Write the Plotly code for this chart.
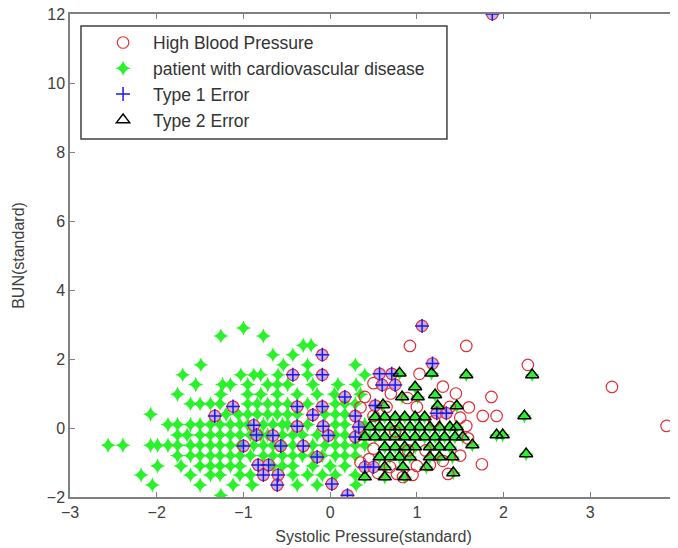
import plotly.graph_objects as go

# ---- data ----
# patients with cardiovascular disease (green stars)
cvd_x = [-1.0,
         -1.26, -0.77,
         -0.31, -0.22,
         -0.66, -0.43,
         -1.49, -0.54, -0.26, 0.29,
         -1.70, -1.03, -0.88, -0.80, -0.60, -0.26, 0.40,
         -1.55, -1.24, -1.15, -0.95, -0.72, -0.61, -0.49, -0.20, 0.09, 0.30,
         -1.76, -1.26, -0.95, -0.80, -0.61, -0.38, -0.15, 0.05, 0.35,
         -1.61, -1.50, -1.38, -1.27, -0.95, -0.84, -0.72, -0.61, -0.49, -0.26, 0.06, 0.17, 0.29,
         -2.07, -1.20, -1.06, -0.95, -0.84, -0.72, -0.61, -0.49, -0.38, -0.06, 0.06, 0.17,
         -1.87, -1.76, -1.61, -1.50, -1.38, -1.27, -1.15, -1.04, -0.95, -0.77, -0.66, -0.55, -0.49, -0.26, 0.06, 0.17, 0.40,
         -1.76, -1.65, -1.50, -1.38, -1.27, -1.15, -1.04, -0.92, -0.80, -0.72, -0.55, -0.43, -0.32, -0.15, 0.06, 0.17, 0.40,
         -2.56, -2.39, -2.07, -1.99, -1.87, -1.76, -1.61, -1.50, -1.38, -1.27, -1.15, -1.04, -0.88, -0.77, -0.66, -0.55, -0.43, -0.20, -0.06, 0.06, 0.17, 0.29, 0.40,
         -1.76, -1.61, -1.50, -1.38, -1.27, -1.15, -1.04, -0.92, -0.77, -0.66, -0.55, -0.43, -0.32, -0.20, -0.09, 0.06, 0.17, 0.29,
         -1.99, -1.72, -1.50, -1.38, -1.27, -1.15, -1.04, -0.66, -0.55, -0.43, -0.20, 0.0, 0.17,
         -2.18, -1.61, -1.38, -1.27, -1.04, -0.92, -0.43, -0.26, -0.09, 0.06, 0.29,
         -2.05, -1.50, -1.12, -0.90, -0.38, -0.15, 0.30,
         -1.26]
cvd_y = [2.9,
         2.67, 2.67,
         2.4, 2.4,
         2.12, 2.12,
         1.83, 1.83, 1.83, 1.83,
         1.54, 1.54, 1.54, 1.54, 1.54, 1.54, 1.54,
         1.26, 1.26, 1.26, 1.26, 1.26, 1.26, 1.26, 1.26, 1.26, 1.26,
         0.98, 0.98, 0.98, 0.98, 0.98, 0.98, 0.98, 0.98, 0.98,
         0.7, 0.7, 0.7, 0.7, 0.7, 0.7, 0.7, 0.7, 0.7, 0.7, 0.7, 0.7, 0.7,
         0.4, 0.4, 0.4, 0.4, 0.4, 0.4, 0.4, 0.4, 0.4, 0.4, 0.4, 0.4,
         0.1, 0.1, 0.1, 0.1, 0.1, 0.1, 0.1, 0.1, 0.1, 0.1, 0.1, 0.1, 0.1, 0.1, 0.1, 0.1, 0.1,
         -0.2, -0.2, -0.2, -0.2, -0.2, -0.2, -0.2, -0.2, -0.2, -0.2, -0.2, -0.2, -0.2, -0.2, -0.2, -0.2, -0.2,
         -0.5, -0.5, -0.5, -0.5, -0.5, -0.5, -0.5, -0.5, -0.5, -0.5, -0.5, -0.5, -0.5, -0.5, -0.5, -0.5, -0.5, -0.5, -0.5, -0.5, -0.5, -0.5, -0.5,
         -0.8, -0.8, -0.8, -0.8, -0.8, -0.8, -0.8, -0.8, -0.8, -0.8, -0.8, -0.8, -0.8, -0.8, -0.8, -0.8, -0.8, -0.8,
         -1.1, -1.1, -1.1, -1.1, -1.1, -1.1, -1.1, -1.1, -1.1, -1.1, -1.1, -1.1, -1.1,
         -1.36, -1.36, -1.36, -1.36, -1.36, -1.36, -1.36, -1.36, -1.36, -1.36, -1.36,
         -1.65, -1.65, -1.65, -1.65, -1.65, -1.65, -1.65,
         -1.95]

# high blood pressure (red circles)
hbp_x = [0.92, 1.57, 2.28, 3.25, 3.88, 1.86, 1.76, 1.92, 1.75, 1.36, 1.03, 0.89, 1.0, 1.38,
         1.15, 0.84, 0.95, 0.69, 0.77, 1.57, 1.59, 0.65, 0.40, 0.50, 0.35, 1.50, 1.10, 0.50,
         0.45, 1.30, 1.50, 1.00, 0.70, 1.30, 0.50, 0.55, 0.35, 1.45, 1.60, 0.90, 1.20, 0.75]
hbp_y = [2.38, 2.38, 1.83, 1.19, 0.06, 0.90, 0.35, 0.35, -1.05, -1.33, 1.57, 0.87, 0.61, 0.61,
         -1.07, -1.42, -1.36, -1.13, -1.33, 0.06, -0.30, 0.61, 0.90, 0.35, 0.60, 0.30, -0.65, -0.60,
         -0.90, -0.95, -0.80, -1.10, 1.00, 1.20, 1.30, -1.30, -1.00, 1.00, 0.60, -0.65, 0.20, -0.10]

# type 1 errors (blue plus)
t1_x = [1.87, 1.06, 1.18, -0.09, -0.43, -0.09, 0.57, 0.71, 0.60, 0.75, 0.17, -1.12, -0.38,
        -0.09, 0.52, -1.33, -0.20, 0.29, 1.23, 1.34, -0.88, -0.38, -0.08, -0.85, -0.66, -0.02,
        0.29, -1.00, -0.57, -0.31, -0.15, -0.83, -0.71, 0.40, 0.50, -0.77, -0.60, -0.61, 0.02,
        0.20, 0.33]
t1_y = [12.0, 2.96, 1.87, 2.12, 1.54, 1.54, 1.57, 1.57, 1.25, 1.25, 0.90, 0.62, 0.62,
        0.62, 0.65, 0.35, 0.38, 0.35, 0.43, 0.43, 0.08, 0.05, 0.05, -0.20, -0.22, -0.22,
        -0.26, -0.52, -0.52, -0.52, -0.84, -1.07, -1.07, -1.13, -1.13, -1.36, -1.36, -1.65, -1.62,
        -1.95, 0.03]

# type 2 errors (black triangles)
t2_x = [0.80, 1.17, 1.57, 2.33, 0.98, 0.83, 1.01, 1.21, 0.61, 1.24, 1.46,
        0.52, 0.63, 0.75, 0.86, 0.98, 1.09, 2.24,
        0.46, 0.57, 0.69, 0.80, 0.92, 1.03, 1.15, 1.26, 1.38, 1.46,
        0.40, 0.52, 0.63, 0.75, 0.86, 0.98, 1.09, 1.21, 1.32, 1.44, 1.53, 1.92, 1.99,
        0.63, 0.75, 0.86, 0.98, 1.15, 1.26, 1.38, 1.64,
        0.57, 0.69, 0.80, 0.92, 1.15, 1.26, 1.41, 2.26,
        0.63, 0.84, 1.11,
        0.40, 0.63, 0.86, 1.42]
t2_y = [1.59, 1.59, 1.54, 1.54, 1.19, 0.90, 0.90, 0.96, 0.67, 0.64, 0.64,
        0.32, 0.32, 0.32, 0.32, 0.32, 0.32, 0.35,
        0.03, 0.03, 0.03, 0.03, 0.03, 0.03, 0.03, 0.03, 0.03, 0.03,
        -0.26, -0.26, -0.26, -0.26, -0.26, -0.26, -0.26, -0.26, -0.26, -0.26, -0.26, -0.20, -0.20,
        -0.55, -0.55, -0.55, -0.55, -0.55, -0.55, -0.55, -0.49,
        -0.84, -0.84, -0.84, -0.84, -0.84, -0.84, -0.84, -0.75,
        -1.13, -1.13, -1.13,
        -1.42, -1.42, -1.42, -1.30]

x_ticks = [-3, -2, -1, 0, 1, 2, 3, 4]
y_ticks = [-2, 0, 2, 4, 6, 8, 10, 12]

RED = "#e2303a"
GREEN = "#2af22a"
BLUE = "#1a1ae6"
FONT = "Liberation Sans, Arial, sans-serif"

fig = go.Figure()

# green stars (patients incl. those under type-2 triangles)
fig.add_trace(go.Scatter(
    x=cvd_x + t2_x, y=cvd_y + t2_y, mode="markers",
    name="patient with cardiovascular disease", legendrank=2,
    marker=dict(symbol="star-diamond", size=11, color=GREEN, line=dict(width=0)),
))
# red circles
fig.add_trace(go.Scatter(
    x=hbp_x, y=hbp_y, mode="markers", name="High Blood Pressure", legendrank=1,
    marker=dict(symbol="circle-open", size=11.5, color=RED, line=dict(width=1.2, color=RED)),
))
# circles under the type-1 pluses
fig.add_trace(go.Scatter(
    x=t1_x, y=t1_y, mode="markers", showlegend=False, hoverinfo="skip",
    marker=dict(symbol="circle", size=11.5, color="rgba(165,125,235,0.6)",
                line=dict(width=1.2, color=RED)),
))
fig.add_trace(go.Scatter(
    x=t1_x, y=t1_y, mode="markers", name="Type 1 Error", legendrank=3,
    marker=dict(symbol="cross-thin-open", size=10, color=BLUE, line=dict(width=1.5, color=BLUE)),
))
fig.add_trace(go.Scatter(
    x=t2_x, y=t2_y, mode="markers", name="Type 2 Error", legendrank=4,
    marker=dict(symbol="triangle-up-open", size=11.5, color="black", line=dict(width=1.5, color="black")),
))

axis_common = dict(
    showline=True, linecolor="#808080", linewidth=1.5, mirror="ticks",
    ticks="inside", ticklen=5, tickcolor="#808080", tickwidth=1,
    showgrid=False, zeroline=False,
    tickfont=dict(family=FONT, size=16, color="#404040"),
    ticklabeloverflow="allow",
    automargin=False,
)

fig.update_layout(
    width=670, height=540,
    margin=dict(l=62, r=1, t=6, b=51),
    paper_bgcolor="white", plot_bgcolor="white",
    font=dict(family=FONT, color="#404040"),
    xaxis=dict(range=[-3, 4], tickvals=x_ticks,
               title=dict(text="Systolic Pressure(standard)", standoff=11,
                          font=dict(size=16, color="#404040")),
               **axis_common),
    yaxis=dict(range=[-2, 12], tickvals=y_ticks,
               title=dict(text="BUN(standard)", standoff=18,
                          font=dict(size=16, color="#404040")),
               **axis_common),
    legend=dict(x=0.038, y=0.978, xanchor="left", yanchor="top",
                bgcolor="rgba(0,0,0,0)", borderwidth=0,
                font=dict(size=17.5, color="#333333"),
                itemwidth=50, traceorder="normal", tracegroupgap=0),
    shapes=[dict(type="rect", xref="paper", yref="paper",
                 x0=0.0181, x1=0.621, y0=0.741, y1=0.975,
                 line=dict(color="#404040", width=1.5), fillcolor="white",
                 layer="above")],
    showlegend=True,
)

fig.write_html("out.html")
